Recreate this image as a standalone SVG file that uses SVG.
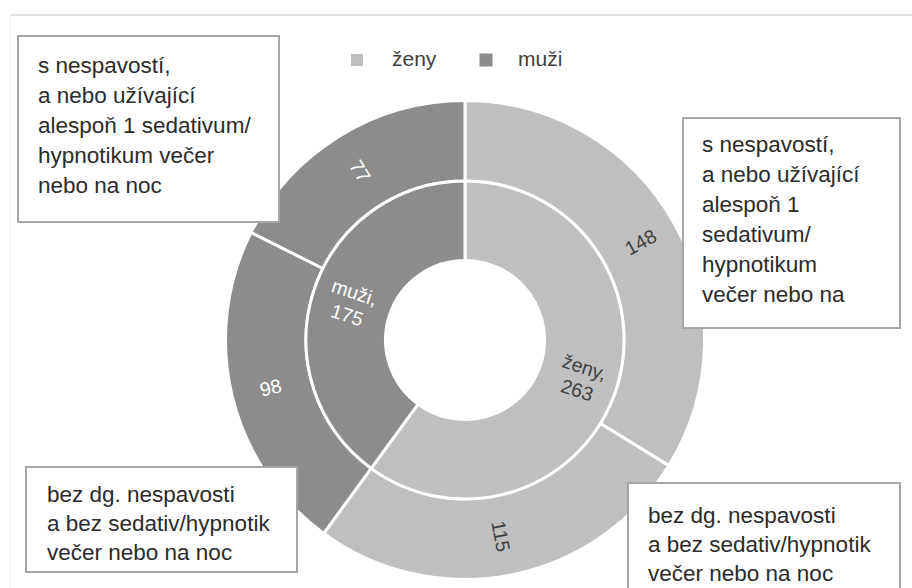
<svg xmlns="http://www.w3.org/2000/svg" width="912" height="588" viewBox="0 0 912 588">
  <style>
    .w { fill: #bfbfbf; stroke: #ffffff; stroke-width: 3; stroke-linejoin: round; }
    .m { fill: #8c8c8c; stroke: #ffffff; stroke-width: 3; stroke-linejoin: round; }
    .lbl { font-family: "Liberation Sans", Arial, sans-serif; font-size: 19.5px; text-anchor: middle; dominant-baseline: central; }
    .dark { fill: #404040; }
    .light { fill: #ffffff; }
    .box { fill: #ffffff; stroke: #a6a6a6; stroke-width: 2; }
    .bt { font-family: "Liberation Sans", Arial, sans-serif; font-size: 22.5px; fill: #2b2b2b; }
    .lg { font-family: "Liberation Sans", Arial, sans-serif; font-size: 21px; fill: #404040; }
  </style>
  <rect x="0" y="0" width="912" height="588" fill="#ffffff"/>
  <g id="frame">
    <line x1="10" y1="15" x2="912" y2="15" stroke="#d9d9d9" stroke-width="1.5"/>
    <line x1="10" y1="15" x2="10" y2="588" stroke="#f0f0f0" stroke-width="1"/>
  </g>

  <g id="legend">
    <rect x="351" y="54" width="12" height="12" fill="#bfbfbf"/>
    <text class="lg" x="392" y="66">ženy</text>
    <rect x="479.5" y="53.5" width="13" height="13" fill="#8c8c8c"/>
    <text class="lg" x="518" y="66">muži</text>
  </g>

  <g id="outer-zeny-148">
    <path class="w" d="M465,100.5 A239.5,239.5 0 0 1 668.90,465.65 L600.36,423.42 A159,159 0 0 0 465,181 Z"/>
    <text class="lbl dark" transform="translate(640.5,242) rotate(-29.2)">148</text>
  </g>
  <g id="outer-zeny-115">
    <path class="w" d="M668.90,465.65 A239.5,239.5 0 0 1 323.67,533.36 L371.17,468.37 A159,159 0 0 0 600.36,423.42 Z"/>
    <text class="lbl dark" transform="translate(501,536.3) rotate(79)">115</text>
  </g>
  <g id="outer-muzi-98">
    <path class="m" d="M323.67,533.36 A239.5,239.5 0 0 1 251.06,232.34 L322.97,268.53 A159,159 0 0 0 371.17,468.37 Z"/>
    <text class="lbl light" transform="translate(270.6,387.5) rotate(-13.6)">98</text>
  </g>
  <g id="outer-muzi-77">
    <path class="m" d="M251.06,232.34 A239.5,239.5 0 0 1 465,100.5 L465,181 A159,159 0 0 0 322.97,268.53 Z"/>
    <text class="lbl light" transform="translate(360.1,171) rotate(58.4)">77</text>
  </g>
  <g id="inner-zeny">
    <path class="w" d="M465,181 A159,159 0 1 1 371.17,468.37 L418.09,404.18 A79.5,79.5 0 1 0 465,260.5 Z"/>
    <text class="lbl dark" transform="translate(581,378) rotate(18)"><tspan x="0" y="-11.5">ženy,</tspan><tspan x="0" y="12.5">263</tspan></text>
  </g>
  <g id="inner-muzi">
    <path class="m" d="M371.17,468.37 A159,159 0 0 1 465,181 L465,260.5 A79.5,79.5 0 0 0 418.09,404.18 Z"/>
    <text class="lbl light" transform="translate(351,303) rotate(18)"><tspan x="0" y="-11.5">muži,</tspan><tspan x="0" y="12.5">175</tspan></text>
  </g>

  <g id="box-muzi-nespavost">
    <rect class="box" x="18" y="36" width="261" height="186"/>
    <text class="bt">
      <tspan x="38" y="73">s nespavostí,</tspan>
      <tspan x="38" y="103">a nebo užívající</tspan>
      <tspan x="38" y="133">alespoň 1 sedativum/</tspan>
      <tspan x="38" y="163">hypnotikum večer</tspan>
      <tspan x="38" y="193">nebo na noc</tspan>
    </text>
  </g>
  <g id="box-zeny-nespavost">
    <rect class="box" x="683" y="118" width="217" height="210"/>
    <text class="bt">
      <tspan x="702" y="152">s nespavostí,</tspan>
      <tspan x="702" y="182">a nebo užívající</tspan>
      <tspan x="702" y="212">alespoň 1</tspan>
      <tspan x="702" y="242">sedativum/</tspan>
      <tspan x="702" y="272">hypnotikum</tspan>
      <tspan x="702" y="302">večer nebo na</tspan>
    </text>
  </g>
  <g id="box-muzi-bez">
    <rect class="box" x="26" y="467" width="271" height="105"/>
    <text class="bt">
      <tspan x="47" y="502">bez dg. nespavosti</tspan>
      <tspan x="47" y="531">a bez sedativ/hypnotik</tspan>
      <tspan x="47" y="560">večer nebo na noc</tspan>
    </text>
  </g>
  <g id="box-zeny-bez">
    <rect class="box" x="628" y="483" width="272" height="120"/>
    <text class="bt">
      <tspan x="648" y="523">bez dg. nespavosti</tspan>
      <tspan x="648" y="552">a bez sedativ/hypnotik</tspan>
      <tspan x="648" y="581">večer nebo na noc</tspan>
    </text>
  </g>
</svg>
